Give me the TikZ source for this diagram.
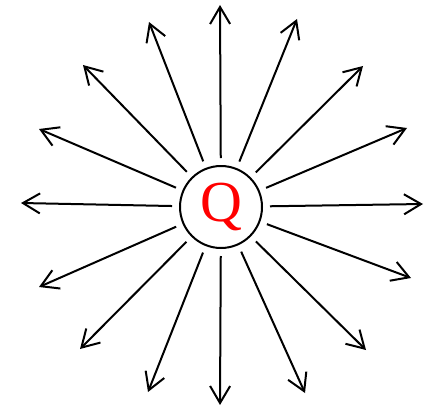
\documentclass[tikz,border=0pt]{standalone}
\usepackage{fontspec}
\setmainfont{Liberation Serif}
\usetikzlibrary{arrows.meta}
\tikzset{
  charge/.style={circle, draw, line width=2pt, minimum size=82pt, inner sep=0pt,
    text=red, font=\fontsize{58}{58}\selectfont},
  field/.style={line width=2pt, shorten <=7pt,
    -{Straight Barb[length=17pt,width=20pt,line width=2pt]}}
}
\begin{document}
\begin{tikzpicture}[x=1pt,y=-1pt]
\useasboundingbox (0,0) rectangle (435,409);
\node[charge] (Q) at (221,207) {Q};
\coordinate (t1) at (220,5);
\coordinate (t2) at (297,19);
\coordinate (t3) at (363,66);
\coordinate (t4) at (407,128);
\coordinate (t5) at (423,204);
\coordinate (t6) at (411,278);
\coordinate (t7) at (366,350);
\coordinate (t8) at (305,393);
\coordinate (t9) at (220,405);
\coordinate (t10) at (148,392);
\coordinate (t11) at (80,349);
\coordinate (t12) at (39,287);
\coordinate (t13) at (21,203);
\coordinate (t14) at (39,129);
\coordinate (t15) at (83,65);
\coordinate (t16) at (149,22);
\foreach \i in {1,...,16} {
  \draw[field] (Q) -- (t\i);
}
\end{tikzpicture}
\end{document}
